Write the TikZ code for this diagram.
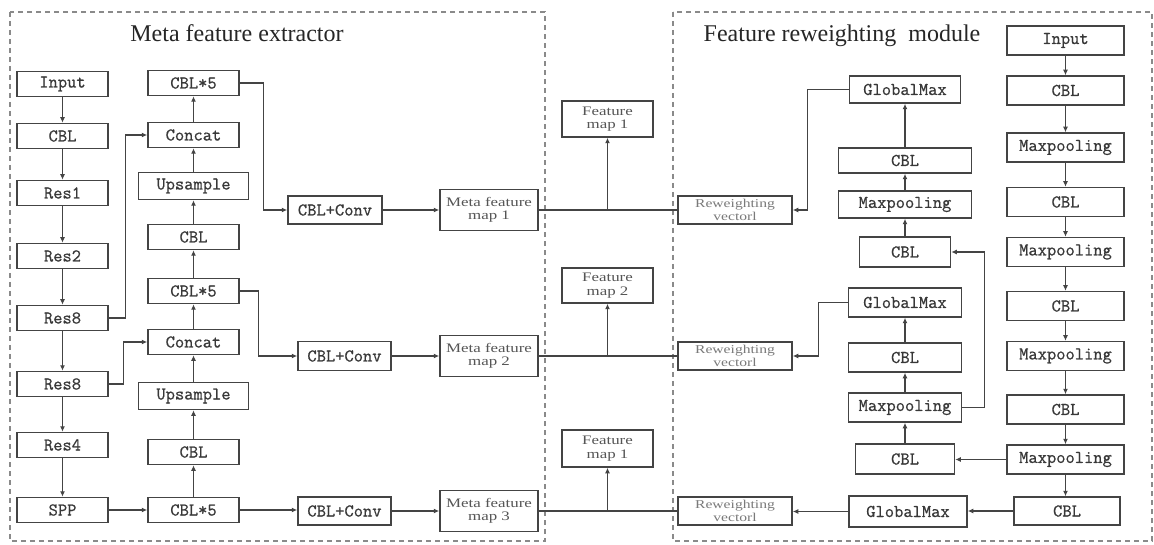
\documentclass[tikz,border=0pt]{standalone}
\usepackage{fontspec}
\setmainfont{Liberation Serif}
\newfontfamily\boxmono[FakeBold=0.7]{Latin Modern Mono}
\newfontfamily\smallserif[FakeStretch=1.3]{Liberation Serif}
\usetikzlibrary{arrows.meta}
\definecolor{linegray}{HTML}{444444}
\definecolor{framegray}{HTML}{8A8A8A}
\definecolor{txtgray}{HTML}{555555}
\definecolor{lighttxt}{HTML}{7A7A7A}
\tikzset{
  bx/.style={draw=linegray, line width=1.5pt, inner sep=0pt, text=black!78,
    font=\boxmono\fontsize{18}{18}\selectfont, minimum width=91pt, minimum height=25pt},
  mapbox/.style={draw=linegray, line width=1.5pt, inner sep=0pt, text=txtgray, align=center,
    font=\smallserif\fontsize{13}{13.5}\selectfont},
  rwbox/.style={draw=linegray, line width=1.5pt, inner sep=0pt, text=lighttxt, align=center,
    font=\smallserif\fontsize{12}{13}\selectfont, minimum width=114pt, minimum height=28pt},
  conn/.style={draw=linegray, line width=1.4pt},
  arr/.style={conn, -{Latex[length=5.5pt,width=5pt]}},
  frame/.style={draw=framegray, line width=1.3pt, dash pattern=on 5pt off 4pt},
  title/.style={font=\fontsize{24}{24}\selectfont, text=black!85}
}
\begin{document}
\begin{tikzpicture}[x=1pt,y=-1pt]
\useasboundingbox (0,0) rectangle (1154,545);
\fill[white] (0,0) rectangle (1154,545);
% frames
\draw[frame] (10,12) rectangle (545,541);
\draw[frame] (673,12) rectangle (1152,541);
\node[title] (t1) at (237,33) {Meta feature extractor};
\node[title] (t2) at (842,36) {Feature reweighting\ \ module};

% column A
\node[bx] (A1) at (62.5,84) {Input};
\node[bx] (A2) at (62.5,136) {CBL};
\node[bx] (A3) at (62.5,193) {Res1};
\node[bx] (A4) at (62.5,256) {Res2};
\node[bx] (A5) at (62.5,318) {Res8};
\node[bx] (A6) at (62.5,384) {Res8};
\node[bx] (A7) at (62.5,445) {Res4};
\node[bx] (A8) at (62.5,510) {SPP};
% column B
\node[bx] (B1) at (193.5,83) {CBL*5};
\node[bx] (B2) at (193.5,135) {Concat};
\node[bx, minimum width=110pt, minimum height=27pt] (B3) at (193.5,186) {Upsample};
\node[bx] (B4) at (193.5,237) {CBL};
\node[bx] (B5) at (193.5,291) {CBL*5};
\node[bx] (B6) at (193.5,342) {Concat};
\node[bx, minimum width=110pt, minimum height=27pt] (B7) at (193.5,396) {Upsample};
\node[bx] (B8) at (193.5,452) {CBL};
\node[bx] (B9) at (193.5,510) {CBL*5};
% column C
\node[bx, minimum width=94pt, minimum height=28pt] (C1) at (335,210) {CBL+Conv};
\node[bx, minimum width=93pt, minimum height=29pt] (C2) at (344.5,356) {CBL+Conv};
\node[bx, minimum width=93pt, minimum height=28pt] (C3) at (344.5,511) {CBL+Conv};
% meta maps
\node[mapbox, minimum width=98pt, minimum height=41pt] (D1) at (489,210) {Meta feature\\map 1};
\node[mapbox, minimum width=98pt, minimum height=41pt] (D2) at (489,356) {Meta feature\\map 2};
\node[mapbox, minimum width=98pt, minimum height=41pt] (D3) at (489,511) {Meta feature\\map 3};
% feature maps
\node[mapbox, minimum width=91pt, minimum height=36pt] (M1) at (607.5,119) {Feature\\map 1};
\node[mapbox, minimum width=91pt, minimum height=35pt] (M2) at (607.5,285.5) {Feature\\map 2};
\node[mapbox, minimum width=91pt, minimum height=37pt] (M3) at (607.5,448.5) {Feature\\map 1};
% reweighting vectors
\node[rwbox] (R1) at (735,210) {Reweighting\\vectorl};
\node[rwbox] (R2) at (735,356) {Reweighting\\vectorl};
\node[rwbox] (R3) at (735,511) {Reweighting\\vectorl};
% column E
\node[bx, minimum width=111pt, minimum height=27pt] (E1) at (905,89.5) {GlobalMax};
\node[bx, minimum width=133pt, minimum height=25pt] (E2) at (905,160.5) {CBL};
\node[bx, minimum width=133pt, minimum height=27pt] (E3) at (905,204.5) {Maxpooling};
\node[bx, minimum width=91pt, minimum height=30pt] (E4) at (905,252) {CBL};
\node[bx, minimum width=113pt, minimum height=29pt] (E5) at (905,302.5) {GlobalMax};
\node[bx, minimum width=113pt, minimum height=29pt] (E6) at (905,357.5) {CBL};
\node[bx, minimum width=113pt, minimum height=29pt] (E7) at (905,407.5) {Maxpooling};
\node[bx, minimum width=99pt, minimum height=30pt] (E8) at (905,459) {CBL};
\node[bx, minimum width=118pt, minimum height=31pt] (E9) at (908,511.5) {GlobalMax};
% column F
\node[bx, minimum width=117pt, minimum height=29pt] (F1) at (1065.5,40.5) {Input};
\node[bx, minimum width=117pt, minimum height=29pt] (F2) at (1065.5,90.5) {CBL};
\node[bx, minimum width=117pt, minimum height=29pt] (F3) at (1065.5,147.5) {Maxpooling};
\node[bx, minimum width=117pt, minimum height=29pt] (F4) at (1065.5,202) {CBL};
\node[bx, minimum width=117pt, minimum height=29pt] (F5) at (1065.5,252) {Maxpooling};
\node[bx, minimum width=117pt, minimum height=29pt] (F6) at (1065.5,306) {CBL};
\node[bx, minimum width=117pt, minimum height=29pt] (F7) at (1065.5,356) {Maxpooling};
\node[bx, minimum width=117pt, minimum height=29pt] (F8) at (1065.5,409.5) {CBL};
\node[bx, minimum width=117pt, minimum height=29pt] (F9) at (1065.5,459.5) {Maxpooling};
\node[bx, minimum width=106pt, minimum height=28pt] (F10) at (1067,511) {CBL};

% connectors: column A down
\foreach \a/\b in {A1/A2,A2/A3,A3/A4,A4/A5,A5/A6,A6/A7,A7/A8}
  \draw[arr] (\a) -- (\b);
% column B up
\foreach \a/\b in {B9/B8,B8/B7,B7/B6,B6/B5,B5/B4,B4/B3,B3/B2,B2/B1}
  \draw[arr] (\a) -- (\b);
\draw[arr] (A5.east) -- ++(17,0) |- (B2.west);
\draw[arr] (A6.east) -- ++(15,0) |- (B6.west);
\draw[arr] (A8) -- (B9);
\draw[arr] (B1.east) -- ++(24,0) |- (C1.west);
\draw[arr] (B5.east) -- ++(19,0) |- (C2.west);
\draw[arr] (B9.east) -- (B9.east -| C3.west);
\draw[arr] (C1) -- (D1);
\draw[arr] (C2) -- (D2);
\draw[arr] (C3) -- (D3);
\draw[conn] (D1.east) -- (R1.west);
\draw[conn] (D2.east) -- (R2.west);
\draw[conn] (D3.east) -- (R3.west);
\draw[arr] (D1.east -| M1.south) -- (M1.south);
\draw[arr] (D2.east -| M2.south) -- (M2.south);
\draw[arr] (D3.east -| M3.south) -- (M3.south);
% right column F down
\foreach \a/\b in {F1/F2,F2/F3,F3/F4,F4/F5,F5/F6,F6/F7,F7/F8,F8/F9}
  \draw[arr] (\a) -- (\b);
\draw[arr] (F9.south) -- (F9.south |- F10.north);
\draw[arr] (F9.west) -- (F9.west -| E8.east);
\draw[arr] (F10.west) -- (F10.west -| E9.east);
\draw[arr] (E9.west) -- (E9.west -| R3.east);
% column E up
\foreach \a/\b in {E8/E7,E7/E6,E6/E5,E4/E3,E3/E2,E2/E1}
  \draw[arr] (\a) -- (\b);
\draw[arr] (E7.east) -- ++(22,0) |- (E4.east);
\draw[arr] (E5.west) -- ++(-29,0) |- (R2.east);
\draw[arr] (E1.west) -- ++(-41,0) |- (R1.east);
\end{tikzpicture}
\end{document}
